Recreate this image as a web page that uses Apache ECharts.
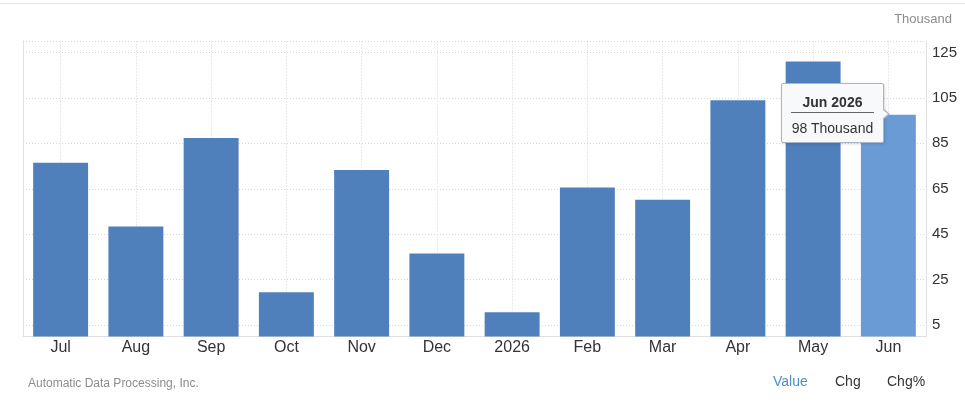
<!DOCTYPE html>
<html>
<head>
<meta charset="utf-8">
<script src="https://cdn.jsdelivr.net/npm/echarts@6/dist/echarts.min.js"></script>
<style>
html,body{margin:0;padding:0;background:#fff;}
#chart{width:965px;height:406px;}
</style>
</head>
<body>
<div id="chart"></div>
<script>
const categories = ['Jul','Aug','Sep','Oct','Nov','Dec','2026','Feb','Mar','Apr','May','Jun'];
const periodNames = ['Jul 2025','Aug 2025','Sep 2025','Oct 2025','Nov 2025','Dec 2025','Jan 2026','Feb 2026','Mar 2026','Apr 2026','May 2026','Jun 2026'];
const values = [76.4, 48.4, 87.3, 19.5, 73.3, 36.5, 10.7, 65.6, 60.2, 103.9, 121.0, 97.6];
const yTicks = [5, 25, 45, 65, 85, 105, 125];
const yMin = 0;
const yMax = 130;
const unitLabel = 'Thousand';
const sourceText = 'Automatic Data Processing, Inc.';
const highlightIndex = 11;

const FONT = '"Liberation Sans", Arial, sans-serif';
const baseColor = '#4f80bc';
const hiColor = '#6a9bd5';
const gridColor = '#d6d6d6';

const chart = echarts.init(document.getElementById('chart'), null, {renderer: 'canvas'});

const barData = values.map((v, i) => i === highlightIndex ? {value: v, itemStyle: {color: hiColor}} : v);

const hLines = yTicks.concat([yMax]).map(v => ({yAxis: v}));
const vLines = categories.map(c => ({xAxis: c}));

const option = {
  animation: false,
  grid: {left: 23, right: 39, top: 41, bottom: 69.5, containLabel: false},
  title: [
    {text: unitLabel, right: 8, top: 8, textStyle: {fontFamily: FONT, fontSize: 13, fontWeight: 'normal', color: '#8c8c8c'}},
    {text: sourceText, left: 23, top: 373, textStyle: {fontFamily: FONT, fontSize: 12, fontWeight: 'normal', color: '#8c8c8c'}}
  ],
  graphic: [
    {type: 'line', shape: {x1: 0, y1: 3.5, x2: 965, y2: 3.5}, style: {stroke: '#e8e8e8', lineWidth: 1}},
    {type: 'text', left: 773, top: 375, style: {text: 'Value', font: '14px ' + FONT, fill: '#4a8fd0'}},
    {type: 'text', left: 835, top: 375, style: {text: 'Chg', font: '14px ' + FONT, fill: '#333'}},
    {type: 'text', left: 887, top: 375, style: {text: 'Chg%', font: '14px ' + FONT, fill: '#333'}}
  ],
  tooltip: {
    trigger: 'item',
    triggerOn: 'none',
    alwaysShowContent: true,
    transitionDuration: 0,
    padding: 0,
    borderWidth: 0,
    backgroundColor: 'transparent',
    extraCssText: 'box-shadow:none;',
    position: function () { return [781, 83]; },
    formatter: function (p) {
      return '<div style="position:relative;width:101px;height:58px;background:#f7f9fb;border:1px solid #a9b6c8;border-radius:2px;box-shadow:1px 1px 3px rgba(0,0,0,0.15);font-family:' + FONT.replace(/"/g, "'") + ';text-align:center;color:#333;">' +
        '<div style="font-weight:bold;font-size:14px;line-height:16px;padding-top:10px;margin:0 9px;border-bottom:1px solid #666;padding-bottom:2px;">' + periodNames[p.dataIndex] + '</div>' +
        '<div style="font-size:14px;line-height:16px;padding-top:7px;">' + Math.round(p.value) + ' ' + unitLabel + '</div>' +
        '<div style="position:absolute;right:-7px;top:24px;width:0;height:0;border-top:6px solid transparent;border-bottom:6px solid transparent;border-left:7px solid #a9b6c8;"></div>' +
        '<div style="position:absolute;right:-5px;top:25px;width:0;height:0;border-top:5px solid transparent;border-bottom:5px solid transparent;border-left:6px solid #f7f9fb;"></div>' +
        '</div>';
    }
  },
  xAxis: {
    type: 'category',
    data: categories,
    axisLine: {show: true, lineStyle: {color: '#e0e0e0', width: 1}},
    axisTick: {show: false},
    axisLabel: {color: '#333', fontFamily: FONT, fontSize: 16, margin: 3},
    splitLine: {show: false}
  },
  yAxis: [
    {
      type: 'value', position: 'right', min: yMin, max: yMax, interval: 5,
      axisLine: {show: true, lineStyle: {color: '#e0e0e0'}},
      axisTick: {show: false},
      splitLine: {show: false},
      axisLabel: {
        color: '#333', fontFamily: FONT, fontSize: 15, margin: 6,
        formatter: v => yTicks.indexOf(v) >= 0 ? String(v) : ''
      }
    },
    {
      type: 'value', position: 'left', min: yMin, max: yMax,
      axisLine: {show: true, lineStyle: {color: '#e0e0e0'}},
      axisTick: {show: false}, axisLabel: {show: false}, splitLine: {show: false}
    }
  ],
  series: [
    {
      type: 'line', data: [], z: 1, zlevel: 0, silent: true,
      markLine: {
        silent: true, symbol: 'none', label: {show: false},
        lineStyle: {color: gridColor, type: [1, 2], width: 1},
        emphasis: {disabled: true},
        data: hLines.concat(vLines)
      }
    },
    {
      type: 'bar', data: barData, z: 2, zlevel: 1, barWidth: '73%',
      itemStyle: {color: baseColor},
      emphasis: {disabled: true}
    }
  ]
};
chart.setOption(option);
chart.dispatchAction({type: 'showTip', seriesIndex: 1, dataIndex: highlightIndex});
</script>
</body>
</html>
